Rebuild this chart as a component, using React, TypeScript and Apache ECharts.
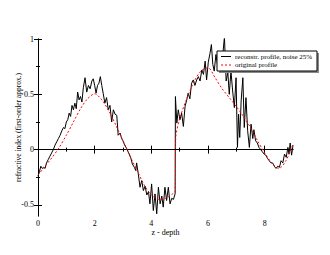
import React, { useEffect, useRef } from "react";
import * as echarts from "echarts";

const xMajorTicks = [0, 2, 4, 6, 8];
const xMinorTicks = [1, 3, 5, 7];
const yMajorTicks = [-0.5, 0, 0.5, 1];
const yMinorTicks = [-0.25, 0.25, 0.75];

const reconstrName = "reconstr. profile, noise 25%";
const originalName = "original profile";

const reconstrZ = [
  0.0, 0.05, 0.1, 0.15, 0.2, 0.25, 0.3, 0.36, 0.42, 0.48, 0.54, 0.6, 0.66, 0.72, 0.78, 0.84, 0.9, 0.95,
  1.0, 1.05, 1.1, 1.15, 1.2, 1.25, 1.3, 1.35, 1.4, 1.45, 1.5, 1.55, 1.6, 1.66, 1.72, 1.78, 1.84, 1.9, 1.95,
  2.0, 2.05, 2.1, 2.15, 2.2, 2.25, 2.3, 2.36, 2.42, 2.48, 2.54, 2.6, 2.66, 2.72, 2.78, 2.83, 2.9, 2.95,
  3.0, 3.06, 3.13, 3.2, 3.27, 3.33, 3.4, 3.45, 3.48, 3.54, 3.6, 3.66, 3.72, 3.78, 3.84, 3.9, 3.95,
  4.01, 4.07, 4.13, 4.19, 4.25, 4.31, 4.37, 4.42, 4.48, 4.54, 4.6, 4.66, 4.72, 4.78, 4.84, 4.85, 4.9, 4.95,
  5.01, 5.07, 5.13, 5.19, 5.25, 5.3, 5.36, 5.42, 5.48, 5.54, 5.6, 5.66, 5.72, 5.78, 5.84, 5.9, 5.95,
  6.01, 6.07, 6.12, 6.17, 6.22, 6.28, 6.34, 6.4, 6.46, 6.52, 6.58, 6.64, 6.7, 6.75, 6.81, 6.87, 6.93, 6.99,
  7.04, 7.08, 7.12, 7.17, 7.23, 7.28, 7.34, 7.4, 7.46, 7.52, 7.58, 7.62, 7.68, 7.74, 7.8, 7.86, 7.92, 7.98,
  8.04, 8.1, 8.16, 8.22, 8.28, 8.34, 8.4, 8.46, 8.52, 8.58, 8.64, 8.7, 8.76, 8.82, 8.86, 8.9, 8.95, 9.0,
];
const reconstrV = [
  -0.24, -0.2, -0.15, -0.17, -0.16, -0.17, -0.12, -0.09, -0.06, -0.03, 0.0, 0.04, 0.07, 0.1, 0.13, 0.17, 0.2, 0.19,
  0.25, 0.27, 0.33, 0.3, 0.4, 0.36, 0.42, 0.37, 0.52, 0.45, 0.48, 0.43, 0.56, 0.65, 0.52, 0.58, 0.55, 0.62, 0.64,
  0.58, 0.51, 0.58, 0.6, 0.66, 0.58, 0.51, 0.42, 0.47, 0.36, 0.4, 0.25, 0.36, 0.32, 0.31, 0.13, 0.15, 0.1,
  0.08, 0.04, 0.01, -0.03, -0.07, -0.13, -0.16, -0.19, -0.12, -0.22, -0.34, -0.28, -0.37, -0.33, -0.41, -0.38, -0.49,
  -0.31, -0.55, -0.4, -0.58, -0.34, -0.49, -0.42, -0.52, -0.34, -0.46, -0.34, -0.49, -0.44, -0.45, -0.4, 0.48, 0.24, 0.36,
  0.27, 0.33, 0.21, 0.39, 0.45, 0.51, 0.46, 0.6, 0.63, 0.58, 0.63, 0.66, 0.62, 0.72, 0.68, 0.8, 0.63,
  0.79, 0.87, 0.95, 0.77, 0.71, 0.86, 0.76, 0.8, 0.7, 0.85, 1.02, 0.62, 0.7, 0.5, 0.71, 0.53, 0.38, 0.65,
  0.02, 0.32, 0.11, 0.44, 0.65, 0.2, 0.47, 0.17, 0.02, 0.23, 0.1, 0.18, 0.08, 0.06, 0.02, 0.0, -0.02, -0.04,
  -0.05, -0.08, -0.1, -0.12, -0.12, -0.15, -0.17, -0.15, -0.16, -0.1, -0.12, -0.04, -0.07, 0.02, -0.04, 0.06, -0.05, 0.04,
];

const originalZ = [
  0, 0.25, 0.5, 0.75, 1.0, 1.25, 1.5, 1.75, 2.0, 2.25, 2.5, 2.75, 3.0, 3.25, 3.5, 3.75, 4.0, 4.25, 4.5, 4.75, 4.84,
  4.86, 5.0, 5.25, 5.5, 5.75, 6.0, 6.25, 6.5, 6.75, 7.0, 7.25, 7.5, 7.75, 8.0, 8.25, 8.5, 8.75, 9.0,
];
const originalV = [
  -0.23, -0.15, -0.07, 0.02, 0.13, 0.25, 0.37, 0.46, 0.505, 0.45, 0.35, 0.22, 0.08, -0.06, -0.19, -0.32, -0.41, -0.45, -0.44, -0.4, -0.38,
  0.1, 0.28, 0.46, 0.61, 0.71, 0.74, 0.65, 0.55, 0.47, 0.39, 0.3, 0.2, 0.08, -0.03, -0.12, -0.17, -0.1, 0.05,
];

const FONT = "Liberation Serif";

export default function App() {
  const ref = useRef<HTMLDivElement>(null);
  useEffect(() => {
    document.body.style.margin = "0";
    const chart = echarts.init(ref.current!, undefined, { renderer: "svg" });
    const axisLine = { show: true, lineStyle: { color: "#000", width: 1 } };
    const baseX = { type: "value", min: 0, max: 9, splitLine: { show: false } };
    const baseY = { type: "value", min: -0.6, max: 1, splitLine: { show: false } };
    const tick = (vals: number[], len: number) => ({
      show: true,
      inside: true,
      length: len,
      customValues: vals,
      lineStyle: { color: "#000", width: 1 },
    });
    const label = { fontFamily: FONT, fontSize: 8, color: "#000" };
    const LX = 217;
    const LY = 51;
    const LW = 100;
    const LH = 20;
    chart.setOption({
      animation: false,
      backgroundColor: "#fff",
      textStyle: { fontFamily: FONT, color: "#000" },
      grid: { left: 38, top: 39, right: 37, bottom: 39, containLabel: false },
      xAxis: [
        {
          ...baseX,
          position: "bottom",
          axisLine,
          axisTick: tick(xMajorTicks, 4),
          axisLabel: { ...label, margin: 3, customValues: xMajorTicks },
          name: "z - depth",
          nameLocation: "middle",
          nameGap: 12,
          nameMoveOverlap: false,
          nameTextStyle: { fontFamily: FONT, fontSize: 8, color: "#000" },
        },
        { ...baseX, position: "bottom", axisLine: { show: false }, axisTick: tick(xMinorTicks, 2), axisLabel: { show: false } },
        { ...baseX, position: "top", axisLine, axisTick: tick(xMajorTicks, 4), axisLabel: { show: false } },
        { ...baseX, position: "top", axisLine: { show: false }, axisTick: tick(xMinorTicks, 2), axisLabel: { show: false } },
      ],
      yAxis: [
        {
          ...baseY,
          position: "left",
          axisLine,
          axisTick: tick(yMajorTicks, 4),
          axisLabel: { ...label, margin: 4, customValues: yMajorTicks },
          name: "refractive index (first-order approx.)",
          nameLocation: "middle",
          nameGap: 16,
          nameRotate: 90,
          nameMoveOverlap: false,
          nameTextStyle: { fontFamily: FONT, fontSize: 7.5, color: "#000" },
        },
        { ...baseY, position: "left", axisLine: { show: false }, axisTick: tick(yMinorTicks, 2), axisLabel: { show: false } },
        { ...baseY, position: "right", axisLine, axisTick: tick(yMajorTicks, 4), axisLabel: { show: false } },
        { ...baseY, position: "right", axisLine: { show: false }, axisTick: tick(yMinorTicks, 2), axisLabel: { show: false } },
      ],
      graphic: [
        { type: "rect", shape: { x: LX + 2, y: LY + 2, width: LW, height: LH }, style: { fill: "#888" }, z: 10 },
        { type: "rect", shape: { x: LX, y: LY, width: LW, height: LH }, style: { fill: "#fff", stroke: "#000", lineWidth: 1 }, z: 11 },
        { type: "line", shape: { x1: LX + 4, y1: LY + 5.5, x2: LX + 14, y2: LY + 5.5 }, style: { stroke: "#000", lineWidth: 1 }, z: 12 },
        { type: "line", shape: { x1: LX + 4, y1: LY + 14, x2: LX + 14, y2: LY + 14 }, style: { stroke: "#ff0000", lineWidth: 1, lineDash: [2, 2] }, z: 12 },
        {
          type: "text",
          x: LX + 18,
          y: LY + 5.5,
          style: { text: reconstrName, fontFamily: FONT, fontSize: 7, fill: "#000", verticalAlign: "middle", align: "left" },
          z: 12,
        },
        {
          type: "text",
          x: LX + 18,
          y: LY + 14,
          style: { text: originalName, fontFamily: FONT, fontSize: 7, fill: "#000", verticalAlign: "middle", align: "left" },
          z: 12,
        },
      ],
      series: [
        {
          name: reconstrName,
          type: "line",
          xAxisIndex: 0,
          yAxisIndex: 0,
          symbol: "none",
          clip: true,
          data: reconstrZ.map((z, i) => [z, reconstrV[i]]),
          lineStyle: { color: "#000", width: 1 },
          itemStyle: { color: "#000" },
          z: 2,
        },
        {
          name: originalName,
          type: "line",
          xAxisIndex: 0,
          yAxisIndex: 0,
          symbol: "none",
          smooth: 0.3,
          clip: true,
          data: originalZ.map((z, i) => [z, originalV[i]]),
          lineStyle: { color: "#ff0000", width: 1, type: [2, 2] },
          itemStyle: { color: "#ff0000" },
          z: 3,
        },
      ],
    });
    return () => chart.dispose();
  }, []);
  return (
    <div
      ref={ref}
      style={{ position: "absolute", left: 0, top: 0, width: 330, height: 255 }}
    />
  );
}
